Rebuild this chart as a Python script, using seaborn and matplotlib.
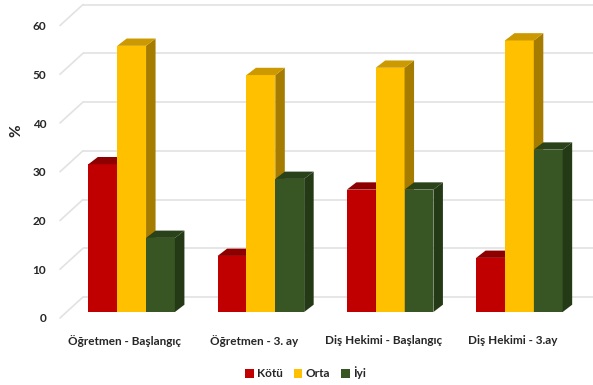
import matplotlib
matplotlib.use('Agg')
import matplotlib.pyplot as plt
import matplotlib.colors as mcolors
from matplotlib.patches import Polygon, Patch
import pandas as pd
import seaborn as sns

# veriler (grafikten okunan yaklaşık değerler)
groups = ['Öğretmen - Başlangıç', 'Öğretmen - 3. ay', 'Diş Hekimi - Başlangıç', 'Diş Hekimi - 3.ay']
levels = ['Kötü', 'Orta', 'İyi']
kotu = [30.3, 11.5, 25.1, 11.1]
orta = [54.6, 48.6, 50.1, 55.7]
iyi = [15.2, 27.3, 25.1, 33.3]
yticks = [0, 10, 20, 30, 40, 50, 60]

# renkler: ön yüz, üst yüz, yan yüz
front = ['#C00000', '#FFC000', '#375623']
top = ['#8E0000', '#CC9A00', '#2A4219']
side = ['#8A0000', '#A67C00', '#243A16']

df = pd.DataFrame({
    'grup': groups * 3,
    'durum': [l for l in levels for _ in groups],
    'yuzde': kotu + orta + iyi,
})

sns.set_style('white')
plt.rcParams['font.family'] = ['Lato', 'DejaVu Sans']

W, H = 593, 385
fig = plt.figure(figsize=(W / 100, H / 100), dpi=100)
# çubukların ön düzlemi
ax = fig.add_axes([67 / W, 1 - 312 / H, 517 / W, 292.5 / H])
# etiket düzlemi (biraz önde: sola ve aşağı kaymış)
ax2 = fig.add_axes([60 / W, 1 - 318 / H, 517 / W, 292.5 / H], zorder=-1)

sns.barplot(df, x='grup', y='yuzde', hue='durum', hue_order=levels, palette=front,
            width=0.67, gap=0, saturation=1, errorbar=None, legend=False,
            edgecolor='none', linewidth=0, ax=ax)
ax.set_xlim(-0.5, 3.5)
ax.set_ylim(0, 60)
ax.patch.set_visible(False)
ax.set_xlabel('')
ax.set_ylabel('')
ax.tick_params(left=False, bottom=False, labelleft=False, labelbottom=False)
sns.despine(ax=ax, left=True, bottom=True)

# piksel -> veri birimi
sx = 517 / 4
sy = 292.5 / 60
ddx, ddy = 9.5 / sx, 7.3 / sy

# 3B görünüm: üst ve yan yüzler
front_hex = [mcolors.to_hex(c) for c in front]
bars = sorted(ax.patches, key=lambda p: p.get_x())
for i, p in enumerate(bars):
    k = front_hex.index(mcolors.to_hex(p.get_facecolor()))
    x0, w, h = p.get_x(), p.get_width(), p.get_height()
    z = 2 + i
    p.set_zorder(z)
    ax.add_patch(Polygon([(x0 + w, 0), (x0 + w, h), (x0 + w + ddx, h + ddy), (x0 + w + ddx, ddy)],
                         closed=True, facecolor=side[k], edgecolor='none', zorder=z, clip_on=False))
    ax.add_patch(Polygon([(x0, h), (x0 + w, h), (x0 + w + ddx, h + ddy), (x0 + ddx, h + ddy)],
                         closed=True, facecolor=top[k], edgecolor='none', zorder=z, clip_on=False))

# arka duvar ve yan duvar kılavuz çizgileri
back_dy = 15 / sy
xb0 = -0.5 + (83 - 67) / sx
xb1 = -0.5 + (593 - 67) / sx
xf0 = -0.5 + (60 - 67) / sx
ax.hlines([v + back_dy for v in yticks], xb0, xb1, colors='#e2e2e2', lw=1.2, clip_on=False, zorder=0.5)
for v in yticks:
    ax.plot([xf0, xb0], [v - 6 / sy, v + back_dy], color='#e2e2e2', lw=1.2, clip_on=False, zorder=0.5)

# etiketler
ax2.set_xlim(-0.5, 3.5)
ax2.set_ylim(0, 60)
ax2.patch.set_visible(False)
ax2.set_xticks(range(len(groups)), groups, fontsize=8.5, fontweight='bold', color='#262626')
ax2.set_yticks(yticks, [str(v) for v in yticks], fontsize=8.5, fontweight='bold', color='#262626')
ax2.tick_params(axis='y', length=0, pad=10)
ax2.tick_params(axis='x', length=0, pad=12)
sns.despine(ax=ax2, left=True, bottom=True)
ax2.set_ylabel('%', fontsize=11, fontweight='bold', color='#262626')
ax2.yaxis.set_label_coords(-0.07, 0.64)

fig.legend(handles=[Patch(facecolor=c, edgecolor='none') for c in front], labels=levels,
           loc='center', bbox_to_anchor=(305.5 / W, 1 - 373 / H), ncol=3, frameon=False,
           handlelength=0.75, handleheight=0.75, handletextpad=0.3, columnspacing=0.9,
           prop={'size': 8.5, 'weight': 'bold'})

fig.savefig('out.png', dpi=100)
